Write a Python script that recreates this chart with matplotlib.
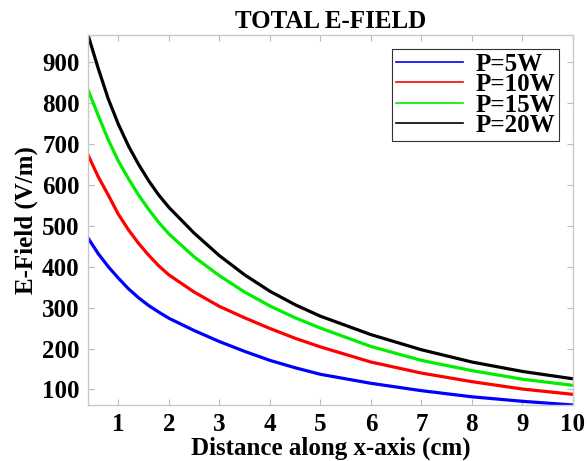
import numpy as np
import matplotlib
matplotlib.use("Agg")
import matplotlib.pyplot as plt

# Distance samples (cm) and field values
dist = np.array([0.4, 0.6, 0.8, 1.0, 1.2, 1.4, 1.6, 1.8, 2.0, 2.5, 3, 3.5, 4, 4.5, 5, 6, 7, 8, 9, 10])
e_5w = np.array([470, 432, 400, 372, 346, 324, 305, 289, 274, 244, 217, 193, 171, 153, 137, 115, 97, 82, 71, 62])
e_10w = np.array([673, 620, 575, 528, 490, 457, 428, 402, 380, 338, 303, 275, 249, 225, 204, 167, 140, 119, 101, 88])
e_15w = np.array([832, 770, 710, 658, 615, 575, 540, 508, 480, 424, 378, 338, 304, 275, 250, 205, 171, 146, 125, 110])
e_20w = np.array([966, 885, 810, 748, 695, 650, 610, 575, 545, 482, 427, 380, 340, 307, 279, 234, 197, 167, 144, 126])

labels = ["P=5W", "P=10W", "P=15W", "P=20W"]
colors = ["#0000ff", "#ff0000", "#00ee00", "#000000"]
x_ticks = [1, 2, 3, 4, 5, 6, 7, 8, 9, 10]
y_ticks = [100, 200, 300, 400, 500, 600, 700, 800, 900]

plt.rcParams['font.family'] = ['Liberation Serif', 'DejaVu Serif']
plt.rcParams['font.weight'] = 'bold'

fig = plt.figure(figsize=(5.87, 4.61), dpi=100)
ax = fig.add_axes([0.15, 0.1215, 0.826, 0.8025])

for y, c, lab in zip([e_5w, e_10w, e_15w, e_20w], colors, labels):
    ax.plot(dist, y, color=c, lw=2.3, label=lab)

ax.set_xlim(0.4, 10)
ax.set_ylim(62, 966)
ax.set_xticks(x_ticks)
ax.set_yticks(y_ticks)
ax.tick_params(direction='in', top=True, right=True, length=4, color='#bbbbbb',
               labelsize=18, pad=6)
for lbl in ax.get_xticklabels() + ax.get_yticklabels():
    lbl.set_fontweight('bold')
for sp in ax.spines.values():
    sp.set_color('#c8c8c8')
    sp.set_linewidth(1.0)

ax.set_title("TOTAL E-FIELD", fontsize=18, fontweight='bold', pad=5)
ax.set_xlabel("Distance along x-axis (cm)", fontsize=18, fontweight='bold', labelpad=0)
ax.set_ylabel("E-Field (V/m)", fontsize=18, fontweight='bold', labelpad=3)

leg = ax.legend(loc='upper right', fontsize=18, handlelength=2.7, labelspacing=-0.1,
                borderpad=0.15, handletextpad=0.5, fancybox=False, framealpha=1,
                borderaxespad=0.55)
leg.get_frame().set_edgecolor('#333333')
leg.get_frame().set_linewidth(0.8)
for h in leg.get_lines():
    h.set_linewidth(1.2)

fig.savefig("out.png", dpi=100)
